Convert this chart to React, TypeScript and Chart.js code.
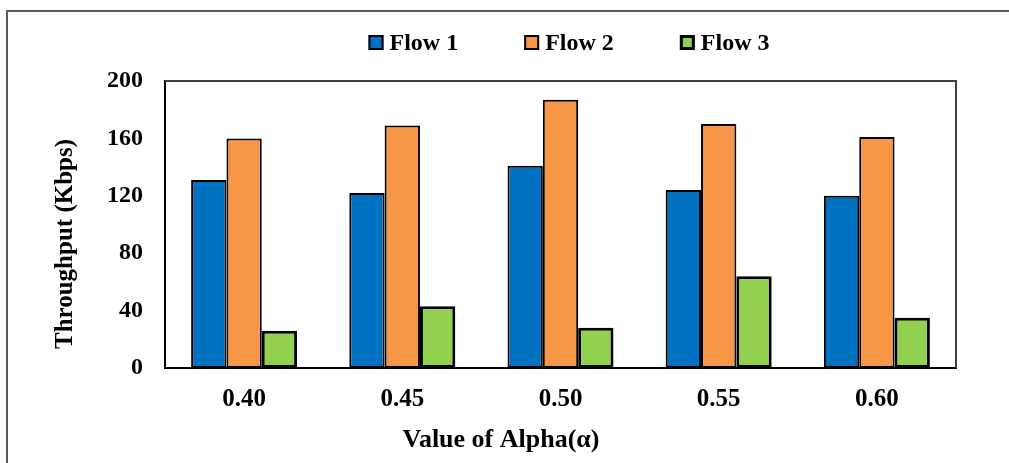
import React, { useEffect, useRef } from "react";
import { Chart, registerables } from "chart.js";

Chart.register(...registerables);

const categories = ["0.40", "0.45", "0.50", "0.55", "0.60"];
const seriesNames = ["Flow 1", "Flow 2", "Flow 3"];
const flow1 = [131, 122, 141, 124, 120];
const flow2 = [160, 169, 187, 170, 161];
const flow3 = [26, 43, 28, 64, 35];
const yMin = 0;
const yMax = 200;
const yStep = 40;
const xTitle = "Value of Alpha(α)";
const yTitle = "Throughput (Kbps)";

const FONT = "'Liberation Serif', 'Times New Roman', serif";
const colors = ["#0070C0", "#F79646", "#92D050"];
const borderWidths = [2, 2, 3];

const framePlugin = {
  id: "frame",
  beforeDraw(chart: any) {
    const { ctx, width, height } = chart;
    ctx.save();
    ctx.fillStyle = "#ffffff";
    ctx.fillRect(0, 0, width, height);
    ctx.strokeStyle = "#5a5a5a";
    ctx.lineWidth = 2;
    ctx.beginPath();
    ctx.moveTo(7, height);
    ctx.lineTo(7, 11);
    ctx.lineTo(width, 11);
    ctx.stroke();
    ctx.restore();
  },
};

const plotBorderPlugin = {
  id: "plotBorder",
  afterDatasetsDraw(chart: any) {
    const { ctx, chartArea } = chart;
    ctx.save();
    ctx.strokeStyle = "#404040";
    ctx.lineWidth = 2;
    ctx.beginPath();
    ctx.moveTo(chartArea.left, chartArea.top);
    ctx.lineTo(chartArea.right, chartArea.top);
    ctx.lineTo(chartArea.right, chartArea.bottom);
    ctx.stroke();
    ctx.restore();
  },
};

const titlesPlugin = {
  id: "axisTitles",
  afterDraw(chart: any) {
    const ctx = chart.ctx;
    ctx.save();
    ctx.fillStyle = "#000000";
    ctx.textAlign = "center";
    ctx.textBaseline = "middle";
    ctx.font = `bold 26px ${FONT}`;
    ctx.fillText(xTitle, 501, 440);
    ctx.translate(65.5, 244);
    ctx.rotate(-Math.PI / 2);
    ctx.font = `bold 25px ${FONT}`;
    ctx.fillText(yTitle, 0, 0);
    ctx.restore();
  },
};

const legendPlugin = {
  id: "customLegend",
  afterDraw(chart: any) {
    const ctx = chart.ctx;
    ctx.save();
    ctx.font = `bold 24px ${FONT}`;
    const box = 15;
    const gap = 6;
    const spacing = 66;
    const items = chart.data.datasets.map((ds: any) => ({
      label: ds.label,
      fill: ds.backgroundColor,
      bw: ds.borderWidth,
    }));
    const widths = items.map((it: any) => box + gap + ctx.measureText(it.label).width);
    const total = widths.reduce((a: number, b: number) => a + b, 0) + spacing * (items.length - 1);
    let x = 569 - total / 2;
    const baseline = 50;
    items.forEach((it: any, i: number) => {
      const by = baseline - box;
      ctx.fillStyle = it.fill;
      ctx.fillRect(x, by, box, box);
      ctx.strokeStyle = "#000000";
      ctx.lineWidth = it.bw;
      ctx.strokeRect(x + it.bw / 2, by + it.bw / 2, box - it.bw, box - it.bw);
      ctx.fillStyle = "#000000";
      ctx.textBaseline = "alphabetic";
      ctx.textAlign = "left";
      ctx.fillText(it.label, x + box + gap, baseline);
      x += widths[i] + spacing;
    });
    ctx.restore();
  },
};

export default function App() {
  const canvasRef = useRef<HTMLCanvasElement | null>(null);

  useEffect(() => {
    const canvas = canvasRef.current;
    if (!canvas) return;
    const seriesValues = [flow1, flow2, flow3];
    const chart = new Chart(canvas, {
      type: "bar",
      data: {
        labels: categories,
        datasets: seriesNames.map((name, i) => ({
          label: name,
          data: seriesValues[i],
          backgroundColor: colors[i],
          borderColor: "#000000",
          borderWidth: borderWidths[i],
          borderSkipped: false,
          barPercentage: 1,
          categoryPercentage: 0.67,
        })),
      },
      options: {
        responsive: false,
        animation: false,
        devicePixelRatio: 1,
        layout: { padding: { top: 81, right: 53, left: 0, bottom: 0 } },
        plugins: {
          legend: { display: false },
          tooltip: { enabled: false },
        },
        scales: {
          x: {
            grid: { display: false, drawTicks: false },
            border: { display: true, color: "#000000", width: 2 },
            ticks: {
              color: "#000000",
              padding: 17,
              font: { family: FONT, size: 25, weight: "bold" },
            },
            afterFit(scale: any) {
              scale.height = 95;
            },
          },
          y: {
            min: yMin,
            max: yMax,
            grid: { display: false, drawTicks: false },
            border: { display: true, color: "#000000", width: 2 },
            ticks: {
              stepSize: yStep,
              color: "#000000",
              padding: 22,
              font: { family: FONT, size: 24, weight: "bold" },
            },
            afterFit(scale: any) {
              scale.width = 165;
            },
          },
        },
      },
      plugins: [framePlugin, plotBorderPlugin, titlesPlugin, legendPlugin],
    });
    return () => chart.destroy();
  }, []);

  return (
    <div style={{ position: "fixed", left: 0, top: 0, width: 1009, height: 463, background: "#fff" }}>
      <canvas ref={canvasRef} width={1009} height={463} style={{ display: "block", width: 1009, height: 463 }} />
    </div>
  );
}
